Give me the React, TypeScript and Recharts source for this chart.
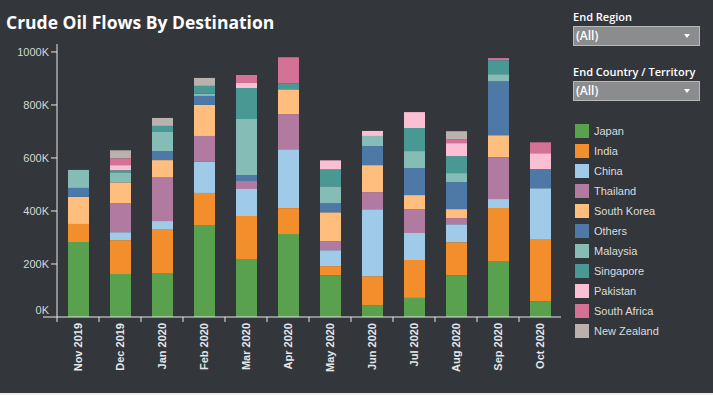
import React from "react";
import { BarChart, Bar, XAxis, YAxis } from "recharts";

const months = [
  "Nov 2019", "Dec 2019", "Jan 2020", "Feb 2020", "Mar 2020", "Apr 2020",
  "May 2020", "Jun 2020", "Jul 2020", "Aug 2020", "Sep 2020", "Oct 2020",
];

// values in thousands
const japan       = [283, 162, 166, 347, 219, 313, 158, 45, 72, 158, 211, 60];
const india       = [68, 128, 166, 121, 162, 98, 34, 109, 143, 124, 200, 234];
const china       = [0, 30, 30, 117, 102, 222, 60, 253, 102, 68, 34, 192];
const thailand    = [0, 109, 166, 98, 30, 132, 34, 64, 90, 23, 158, 0];
const southKorea  = [102, 79, 64, 117, 0, 94, 109, 102, 53, 34, 83, 0];
const others      = [34, 0, 34, 34, 23, 0, 34, 72, 102, 102, 204, 72];
const malaysia    = [68, 38, 72, 8, 211, 0, 64, 38, 64, 34, 26, 0];
const singapore   = [0, 8, 23, 30, 117, 23, 64, 0, 87, 64, 53, 0];
const pakistan    = [0, 19, 0, 0, 19, 0, 34, 19, 60, 49, 0, 60];
const southAfrica = [0, 26, 0, 0, 30, 98, 0, 0, 0, 15, 8, 41];
const newZealand  = [0, 30, 30, 30, 0, 0, 0, 0, 0, 30, 0, 0];

const yTicks = [0, 200000, 400000, 600000, 800000, 1000000];

const series = [
  { key: "Japan", values: japan, color: "#59A14F" },
  { key: "India", values: india, color: "#F28E2B" },
  { key: "China", values: china, color: "#A0CBE8" },
  { key: "Thailand", values: thailand, color: "#B07AA1" },
  { key: "South Korea", values: southKorea, color: "#FFBE7D" },
  { key: "Others", values: others, color: "#4E79A7" },
  { key: "Malaysia", values: malaysia, color: "#86BCB6" },
  { key: "Singapore", values: singapore, color: "#499894" },
  { key: "Pakistan", values: pakistan, color: "#FABFD2" },
  { key: "South Africa", values: southAfrica, color: "#D37295" },
  { key: "New Zealand", values: newZealand, color: "#BAB0AC" },
];

const data = months.map((m, i) => {
  const row: Record<string, string | number> = { month: m };
  series.forEach((s) => (row[s.key] = s.values[i] * 1000));
  return row;
});

const BG = "#33363b";
const AXIS = "#e8e8e8";
const BAND = 42;

const XTick = ({ x, y, payload }: any) => (
  <g>
    <line x1={x - BAND / 2} y1={y} x2={x - BAND / 2} y2={y + 5} stroke={AXIS} />
    <text
      transform={`translate(${x},${y + 6}) rotate(-90)`}
      textAnchor="end"
      dy="0.35em"
      fill="#e6e6e6"
      fontSize={11}
      fontWeight="bold"
      fontFamily="Liberation Sans, Arial, sans-serif"
    >
      {payload.value}
    </text>
  </g>
);

const YTick = ({ x, y, payload }: any) => {
  const zero = payload.value === 0;
  return (
    <g>
      <line x1={x + (zero ? -6 : 2)} y1={y} x2={x + 8} y2={y} stroke={AXIS} />
      <text
        x={x}
        y={zero ? y - 7 : y}
        textAnchor="end"
        dy="0.35em"
        fill="#d6d6d6"
        fontSize={11}
        fontFamily="Liberation Sans, Arial, sans-serif"
      >
        {`${payload.value / 1000}K`}
      </text>
    </g>
  );
};

const Dropdown = ({ label, top }: { label: string; top: number }) => (
  <div style={{ position: "absolute", left: 573, top }}>
    <div
      style={{
        color: "#ffffff",
        fontFamily: "Open Sans, sans-serif",
        fontWeight: 600,
        fontSize: 11,
        lineHeight: "14px",
        height: 16,
      }}
    >
      {label}
    </div>
    <div
      style={{
        position: "relative",
        boxSizing: "border-box",
        width: 127,
        height: 20,
        background: "#8a8c8e",
        border: "1px solid #b8b9ba",
        color: "#ffffff",
        fontFamily: "Open Sans, sans-serif",
        fontWeight: 600,
        fontSize: 12,
        lineHeight: "18px",
        paddingLeft: 2,
      }}
    >
      (All)
      <div
        style={{
          position: "absolute",
          right: 9,
          top: 7,
          width: 0,
          height: 0,
          borderLeft: "3px solid transparent",
          borderRight: "3px solid transparent",
          borderTop: "4px solid #ffffff",
        }}
      />
    </div>
  </div>
);

export default function App() {
  return (
    <div style={{ position: "fixed", left: 0, top: 0, width: 713, height: 395, background: "#efefef" }}>
      <div style={{ position: "absolute", left: 0, top: 0, width: 713, height: 393, background: BG }}>
        <div
          style={{
            position: "absolute",
            left: 6,
            top: 10,
            color: "#ffffff",
            fontFamily: "Open Sans, sans-serif",
            fontWeight: 700,
            fontSize: 17.5,
            lineHeight: "24px",
            whiteSpace: "nowrap",
          }}
        >
          Crude Oil Flows By Destination
        </div>

        <div style={{ position: "absolute", left: 0, top: 0 }}>
          <BarChart
            width={565}
            height={393}
            data={data}
            margin={{ top: 44, right: 4, left: 0, bottom: 0 }}
            barSize={21}
          >
            <XAxis
              dataKey="month"
              interval={0}
              height={76}
              tickSize={0}
              tickMargin={0}
              tickLine={false}
              axisLine={{ stroke: AXIS }}
              tick={<XTick />}
            />
            <YAxis
              width={57}
              domain={[0, 1030000]}
              ticks={yTicks}
              allowDataOverflow
              tickSize={0}
              tickMargin={8}
              tickLine={false}
              axisLine={{ stroke: AXIS }}
              tick={<YTick />}
            />
            {series.map((s) => (
              <Bar key={s.key} dataKey={s.key} stackId="a" fill={s.color} isAnimationActive={false} />
            ))}
          </BarChart>
        </div>

        <Dropdown label="End Region" top={10} />
        <Dropdown label="End Country / Territory" top={65} />

        <div style={{ position: "absolute", left: 575, top: 121 }}>
          {series.map((s) => (
            <div key={s.key} style={{ display: "flex", alignItems: "center", height: 20 }}>
              <div style={{ width: 14, height: 14, background: s.color, marginRight: 5 }} />
              <span
                style={{
                  color: "#dcdcdc",
                  fontFamily: "Liberation Sans, Arial, sans-serif",
                  fontSize: 11,
                }}
              >
                {s.key}
              </span>
            </div>
          ))}
        </div>
      </div>
    </div>
  );
}
